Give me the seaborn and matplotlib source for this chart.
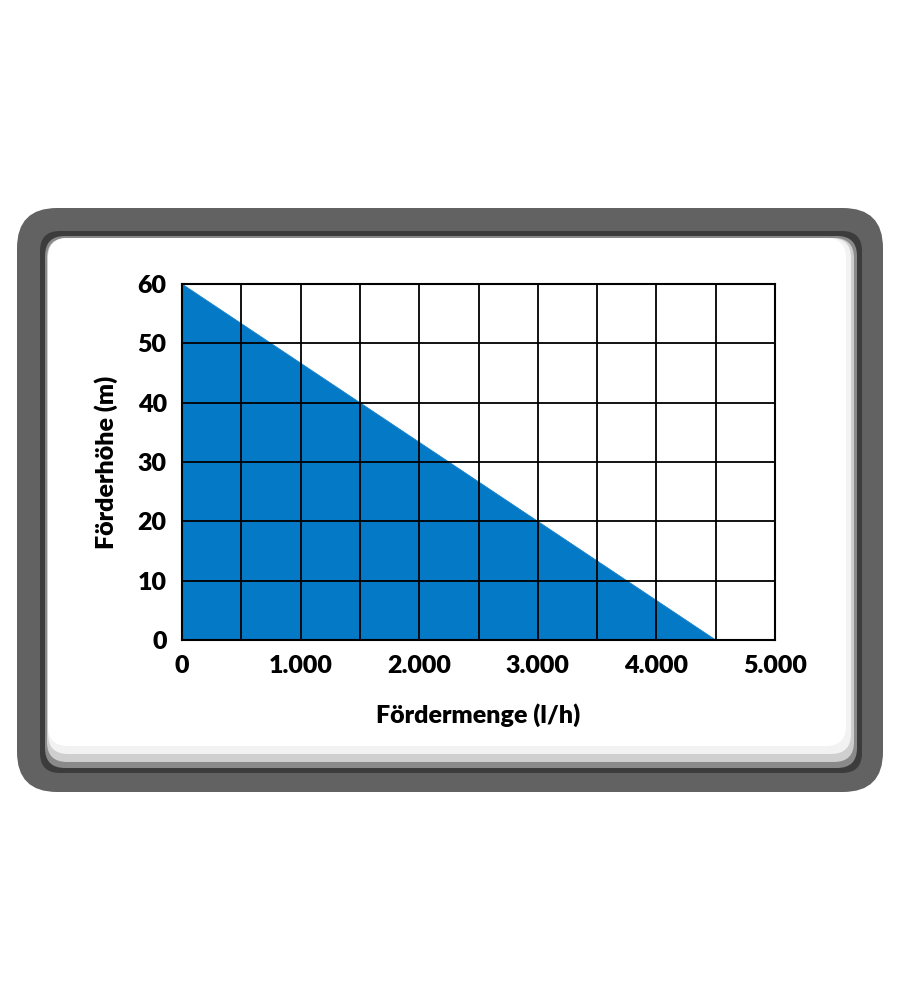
import matplotlib
matplotlib.use('Agg')
import matplotlib.pyplot as plt
from matplotlib.patches import FancyBboxPatch
import numpy as np
import pandas as pd
import seaborn as sns

# pump curve: flow (l/h) vs head (m)
flow = [0, 4500]
head = [60, 0]
x_ticks = [0, 1000, 2000, 3000, 4000, 5000]
x_tick_labels = ['0', '1.000', '2.000', '3.000', '4.000', '5.000']
y_ticks = [0, 10, 20, 30, 40, 50, 60]

BLUE = '#0479c6'

sns.set_theme(style='white')
plt.rcParams['font.family'] = ['Lato', 'DejaVu Sans']

fig = plt.figure(figsize=(9, 9.99), dpi=100)

# background frame drawn in pixel units
bg = fig.add_axes([0, 0, 1, 1])
bg.set_xlim(0, 900)
bg.set_ylim(999, 0)
bg.axis('off')
bg.add_patch(FancyBboxPatch((17 + 40, 208 + 40), 866 - 80, 584 - 80,
                            boxstyle='round,pad=40', fc='#626262', ec='none'))
bg.add_patch(FancyBboxPatch((40 + 20, 231 + 20), 822 - 40, 542 - 40,
                            boxstyle='round,pad=20', fc='#3c3c3c', ec='none'))
bg.add_patch(FancyBboxPatch((45 + 20, 236 + 20), 812 - 40, 532 - 40,
                            boxstyle='round,pad=20', fc='#8a8a8a', ec='none'))
bg.add_patch(FancyBboxPatch((47 + 20, 238 + 20), 807 - 40, 524 - 40,
                            boxstyle='round,pad=20', fc='#cfcfcf', ec='none'))
bg.add_patch(FancyBboxPatch((48 + 20, 238 + 20), 803 - 40, 516 - 40,
                            boxstyle='round,pad=20', fc='#f2f2f2', ec='none'))
bg.add_patch(FancyBboxPatch((48 + 20, 238 + 20), 798 - 40, 508 - 40,
                            boxstyle='round,pad=20', fc='white', ec='none'))

ax = fig.add_axes([0.2022, 0.3594, 0.659, 0.3564])
df = pd.DataFrame({'flow': flow, 'head': head})
sns.lineplot(data=df, x='flow', y='head', color=BLUE, lw=0.5, ax=ax)
ax.fill_between(df['flow'], df['head'], 0, color=BLUE, lw=0, zorder=1)

ax.set_xlim(0, 5000)
ax.set_ylim(0, 60)
ax.set_xticks(x_ticks)
ax.set_xticklabels(x_tick_labels)
ax.set_xticks(np.arange(500, 5000, 1000), minor=True)
ax.set_yticks(y_ticks)
ax.set_facecolor('none')
ax.grid(True, which='both', color='black', lw=1.3, zorder=3)
ax.set_axisbelow(False)
for s in ax.spines.values():
    s.set_color('black')
    s.set_linewidth(1.5)
    s.set_visible(True)
ax.tick_params(axis='both', which='both', length=0, labelsize=18, colors='black')
ax.tick_params(axis='x', pad=11)
ax.tick_params(axis='y', pad=11)
for lab in ax.get_xticklabels() + ax.get_yticklabels():
    lab.set_fontweight('heavy')

ax.set_xlabel('Fördermenge (l/h)', fontsize=18, fontweight='heavy', color='black', labelpad=19)
ax.set_ylabel('Förderhöhe (m)', fontsize=18, fontweight='heavy', color='black', labelpad=14)

plt.savefig('out.png', dpi=100, facecolor='white')
plt.close()
